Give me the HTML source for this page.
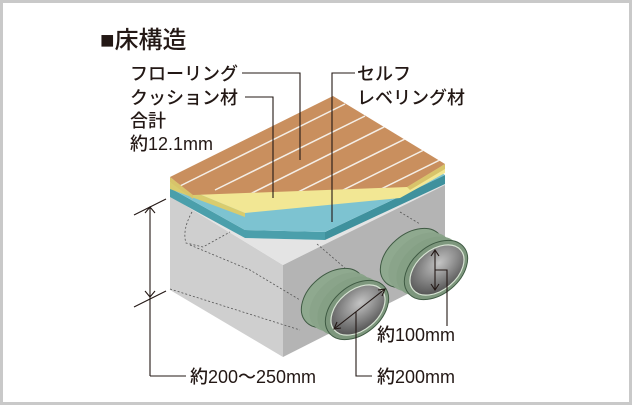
<!DOCTYPE html>
<html><head><meta charset="utf-8"><style>
html,body{margin:0;padding:0;background:#fff}
svg{display:block}
text{font-family:"Liberation Sans","Noto Sans CJK JP",sans-serif;fill:#231815;font-weight:500}
</style></head><body>
<svg width="632" height="405" viewBox="0 0 632 405" xmlns="http://www.w3.org/2000/svg">
<defs>
<radialGradient id="inner" cx="0.6" cy="0.4" r="0.7">
<stop offset="0" stop-color="#c4c4c4"/><stop offset="1" stop-color="#4a4a4a"/></radialGradient>
<clipPath id="brownclip"><polygon points="170,177 333,96 445,164 407,187 193,195"/></clipPath>
</defs>
<rect x="1.5" y="1.5" width="629" height="402" fill="#fff" stroke="#c9c9c9" stroke-width="3"/>
<text x="100" y="48" font-size="24">■床構造</text>

<!-- block -->
<polygon points="170,196 283,265 283,357 170,290" fill="#cfcfcf"/>
<polygon points="283,265 445,183 445,275 283,357" fill="#b4b4b4"/>
<polygon points="170,196 245,238 325,240 445,183 445,185 283,265" fill="#e4e4e4"/>
<g fill="none" stroke="#555" stroke-width="0.8" stroke-dasharray="2,2">
<path d="M192,212 Q182,230 186,243 L203,247 L230,232"/>
<path d="M190,245 L250,270 L300,300"/>
<path d="M317,244 L345,268"/>
<path d="M400,212 L420,224"/>
<path d="M170,289 L300,330"/>
</g>

<!-- teal slab -->
<polygon points="170,188 245,230 245,238 170,197" fill="#4b9fab"/>
<polygon points="245,230 325,232 325,240 245,238" fill="#4b9fab"/>
<polygon points="325,232 445,175 445,184 325,240" fill="#3f919d"/>
<polygon points="170,188 333,105 445,175 325,232 245,230" fill="#7dc3d1"/>
<!-- yellow slab -->
<polygon points="170,182 245,213 245,217 170,189" fill="#d9cc6e"/>
<polygon points="170,182 333,100 445,168 445,173 400,198 245,213" fill="#f2e794"/>
<!-- brown slab -->
<polygon points="170,177 193,195 193,199 170,182" fill="#d8c46a"/>
<polygon points="407,187 445,164 445,169 410,190" fill="#d8c46a"/>
<polygon points="170,177 333,96 445,164 407,187 193,195" fill="#c98f5e"/>
<g clip-path="url(#brownclip)" stroke="#f4eee6" stroke-width="1.5">
<line x1="180" y1="186" x2="345" y2="104"/>
<line x1="215" y1="190" x2="365" y2="116"/>
<line x1="250" y1="194" x2="392" y2="123"/>
<line x1="290" y1="196" x2="415" y2="134"/>
<line x1="335" y1="194" x2="440" y2="142"/>
<line x1="375" y1="192" x2="460" y2="150"/>
</g>

<!-- back pipe -->
<g>
<ellipse cx="412" cy="258" rx="36" ry="24" transform="rotate(-40 412 258)" fill="#8fa98f" stroke="#3f5a43" stroke-width="1"/>
<ellipse cx="420" cy="262" rx="36" ry="24" transform="rotate(-40 420 262)" fill="#8aa48a"/>
<ellipse cx="428" cy="266" rx="36" ry="24" transform="rotate(-40 428 266)" fill="#85a085"/>
<ellipse cx="436" cy="270" rx="36" ry="24" transform="rotate(-40 436 270)" fill="#7d977d" stroke="#3f5a43" stroke-width="1"/>
<ellipse cx="437" cy="270" rx="31" ry="20" transform="rotate(-40 437 270)" fill="url(#inner)" stroke="#d8e4d4" stroke-width="1.2"/>
</g>
<!-- front pipe -->
<g>
<ellipse cx="333" cy="298" rx="36" ry="24" transform="rotate(-40 333 298)" fill="#8fa98f" stroke="#3f5a43" stroke-width="1"/>
<ellipse cx="341" cy="302" rx="36" ry="24" transform="rotate(-40 341 302)" fill="#8aa48a"/>
<ellipse cx="349" cy="306" rx="36" ry="24" transform="rotate(-40 349 306)" fill="#85a085"/>
<ellipse cx="357" cy="310" rx="36" ry="24" transform="rotate(-40 357 310)" fill="#7d977d" stroke="#3f5a43" stroke-width="1"/>
<ellipse cx="358" cy="310" rx="31" ry="20" transform="rotate(-40 358 310)" fill="url(#inner)" stroke="#d8e4d4" stroke-width="1.2"/>
</g>

<!-- leaders -->
<g fill="none" stroke="#231815" stroke-width="1.1">
<polyline points="242,73 300,73 300,160"/>
<polyline points="245,97 273,97 273,198"/>
<polyline points="355,73 332,73 332,222"/>
<line x1="150" y1="207" x2="150" y2="376"/>
<line x1="134" y1="215" x2="166" y2="199"/>
<line x1="134" y1="307" x2="166" y2="291"/>
<polyline points="145,213 150,207 155,213"/>
<polyline points="145,291 150,297 155,291"/>
<line x1="150" y1="376" x2="186" y2="376"/>
<line x1="334" y1="329" x2="385" y2="289"/>
<polyline points="337,322 334,329 341,328"/>
<polyline points="378,290 385,289 382,296"/>
<polyline points="356,312 356,376 372,376"/>
<line x1="435" y1="250" x2="435" y2="290"/>
<polyline points="431,256 435,250 439,256"/>
<polyline points="431,284 435,290 439,284"/>
<polyline points="435,270 447,270 447,326"/>
</g>

<text x="130" y="80" font-size="18">フローリング</text>
<text x="130" y="104" font-size="18">クッション材</text>
<text x="130" y="127" font-size="18">合計</text>
<text x="130" y="150" font-size="18">約12.1mm</text>
<text x="357" y="80" font-size="18">セルフ</text>
<text x="357" y="104" font-size="18">レベリング材</text>
<text x="377" y="341" font-size="18">約100mm</text>
<text x="377" y="383" font-size="18">約200mm</text>
<text x="190" y="383" font-size="18">約200〜250mm</text>
</svg>
</body></html>
